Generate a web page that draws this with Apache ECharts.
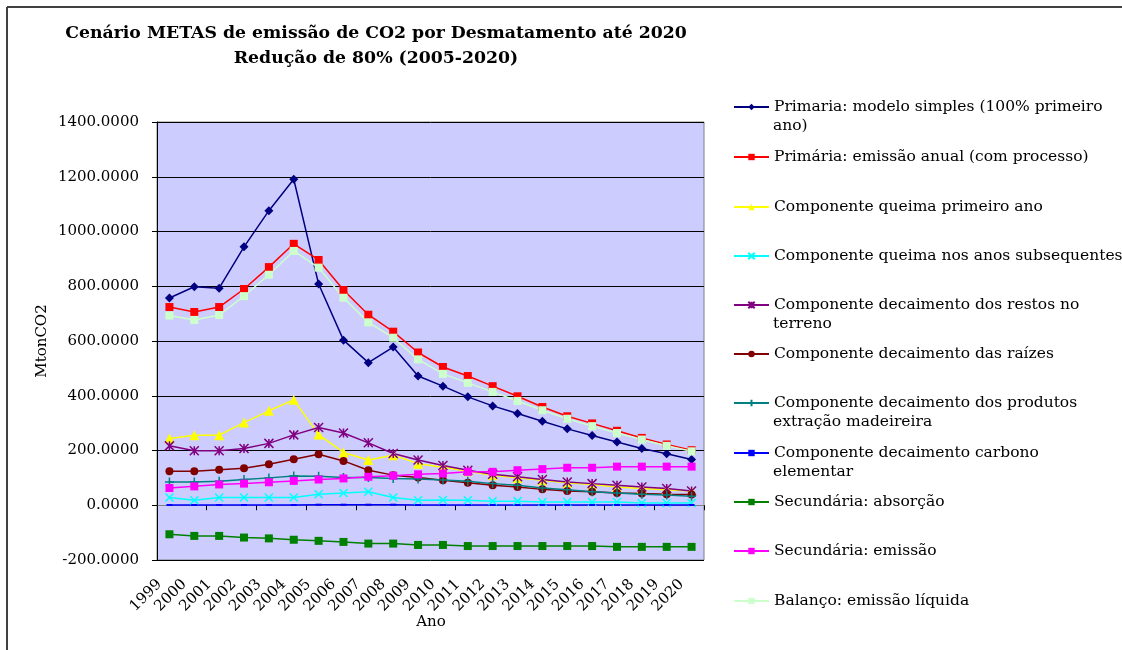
<!DOCTYPE html>
<html><head><meta charset="utf-8">
<script src="https://cdn.jsdelivr.net/npm/echarts@6/dist/echarts.min.js"></script>
<style>html,body{margin:0;padding:0;background:#fff}#c{width:1122px;height:650px}</style>
</head><body><div id="c"></div>
<script>
const years = ['1999','2000','2001','2002','2003','2004','2005','2006','2007','2008','2009','2010','2011','2012','2013','2014','2015','2016','2017','2018','2019','2020'];
const primariaSimples = [757,798,793,944,1076,1191,808,603,521,578,472,435,396,363,335,307,279,255,231,207,188,167];
const primariaAnual = [724,706,724,790,870,955,896,786,696,634,558,505,472,435,398,359,325,299,272,246,222,201];
const queimaPrimeiro = [244,256,256,302,345,385,258,193,165,183,152,139,124,110,100,91,82,76,67,61,57,52];
const queimaSubseq = [28,18,28,28,28,28,40,45,49,28,18,19,18,15,15,12,12,12,12,8,8,8];
const decRestos = [217,199,199,207,226,257,284,264,228,189,165,145,128,113,104,94,85,79,73,67,61,52];
const decRaizes = [124,124,130,135,150,168,186,162,128,110,101,91,82,73,67,58,52,49,45,43,40,39];
const decProdutos = [85,85,88,94,100,107,106,101,101,98,96,92,88,79,73,63,57,49,45,40,37,33];
const decCarbono = [1,1,1,1,1,1,2,2,2,2,1,1,1,1,1,1,1,1,1,1,1,1];
const secAbsorcao = [-106,-112,-112,-118,-121,-126,-130,-134,-140,-140,-145,-145,-149,-149,-149,-149,-149,-149,-152,-152,-152,-152];
const secEmissao = [63,69,76,79,84,89,94,98,104,108,113,116,122,122,128,132,137,137,141,141,141,141];
const balanco = [693,677,695,764,842,929,868,758,668,612,533,480,447,414,381,347,316,289,264,240,217,197];
const yTicks = {min:-200, max:1400, step:200};

const names = [
  'Primaria: modelo simples (100% primeiro ano)',
  'Primária: emissão anual (com processo)',
  'Componente queima primeiro ano',
  'Componente queima nos anos subsequentes',
  'Componente decaimento dos restos no terreno',
  'Componente decaimento das raízes',
  'Componente decaimento dos produtos extração madeireira',
  'Componente decaimento carbono elementar',
  'Secundária: absorção',
  'Secundária: emissão',
  'Balanço: emissão líquida'
];
const legendLines = [
  ['Primaria: modelo simples (100% primeiro', 'ano)'],
  ['Primária: emissão anual (com processo)'],
  ['Componente queima primeiro ano'],
  ['Componente queima nos anos subsequentes'],
  ['Componente decaimento dos restos no', 'terreno'],
  ['Componente decaimento das raízes'],
  ['Componente decaimento dos produtos', 'extração madeireira'],
  ['Componente decaimento carbono', 'elementar'],
  ['Secundária: absorção'],
  ['Secundária: emissão'],
  ['Balanço: emissão líquida']
];
const values = [primariaSimples, primariaAnual, queimaPrimeiro, queimaSubseq, decRestos, decRaizes, decProdutos, decCarbono, secAbsorcao, secEmissao, balanco];

const F = 'DejaVu Serif';
const LF = 15.5;
const styles = [
  {c:'#000080', s:'diamond', z:9},
  {c:'#FF0000', s:'rect', z:8},
  {c:'#FFFF00', s:'triangle', z:10},
  {c:'#00FFFF', s:'path://M0,0L10,10M10,0L0,10', z:8, stroke:true},
  {c:'#800080', s:'path://M0,0L10,10M10,0L0,10M5,0L5,10', z:9, stroke:true},
  {c:'#800000', s:'circle', z:8},
  {c:'#008080', s:'path://M5,0L5,10M0,5L10,5', z:9, stroke:true},
  {c:'#0000FF', s:'rect', z:[6,2]},
  {c:'#008000', s:'rect', z:8},
  {c:'#FF00FF', s:'rect', z:8},
  {c:'#CCFFCC', s:'rect', z:8}
];
const centers = [107,157,207,256,305,354,403,453,502,551,601];

const series = names.map((n,i)=>({
  name:n, type:'line', data:values[i], xAxisIndex:0, yAxisIndex:0,
  symbol:styles[i].s, symbolSize:styles[i].z, showAllSymbol:true,
  lineStyle:{color:styles[i].c, width:1.5},
  itemStyle: styles[i].stroke ? {color:styles[i].c, borderColor:styles[i].c, borderWidth:1.5} : {color:styles[i].c, borderWidth:0},
  emphasis:{disabled:true}, animation:false
}));

const legends = names.map((n,i)=>({
  data:[n], left:733, top:centers[i]-10, padding:0, orient:'vertical',
  itemWidth:35, itemHeight:8, selectedMode:false,
  formatter: ()=>legendLines[i][0],
  textStyle:{fontFamily:F, fontSize:LF, color:'#000', lineHeight:20}
}));

const graphics = [
  {type:'line', shape:{x1:7, y1:7, x2:1122, y2:7}, style:{stroke:'#404040', lineWidth:2}, silent:true, z:100},
  {type:'line', shape:{x1:7, y1:7, x2:7, y2:650}, style:{stroke:'#404040', lineWidth:2}, silent:true, z:100}
];
legendLines.forEach((l,i)=>{
  if (l.length > 1) graphics.push({type:'text', left:773, top:centers[i]+11, silent:true,
    style:{text:l[1], font:LF+'px "'+F+'"', fill:'#000'}});
});

const chart = echarts.init(document.getElementById('c'), null, {renderer:'canvas'});
chart.setOption({
  animation:false,
  backgroundColor:'#fff',
  title:{text:'Cenário METAS de emissão de CO2 por Desmatamento até 2020\nRedução de 80% (2005-2020)',
    left:376, top:21, textAlign:'center', padding:0,
    textStyle:{fontFamily:F, fontWeight:'bold', fontSize:17.3, color:'#000', lineHeight:25}},
  legend:legends,
  grid:[
    {left:157, top:122, right:418, bottom:90, show:true, backgroundColor:'#CCCCFF', borderColor:'#808080', borderWidth:1, containLabel:false},
    {left:147, top:122, right:428, bottom:90, show:false, containLabel:false}
  ],
  xAxis:[
    {type:'category', gridIndex:0, data:years, boundaryGap:true,
      axisLine:{show:true, onZero:true, lineStyle:{color:'#808080', width:1}},
      axisTick:{show:true, length:5, lineStyle:{color:'#000'}},
      axisLabel:{show:false}, splitLine:{show:false}},
    {type:'category', gridIndex:1, data:years, boundaryGap:true, position:'bottom',
      axisLine:{show:false, onZero:false}, axisTick:{show:false}, splitLine:{show:false},
      axisLabel:{rotate:45, interval:0, margin:22, fontFamily:F, fontSize:15, color:'#000'},
      name:'Ano', nameLocation:'middle', nameGap:55, nameMoveOverlap:false,
      nameTextStyle:{fontFamily:F, fontSize:15, color:'#000', padding:[0,0,0,21]}}
  ],
  yAxis:[
    {type:'value', gridIndex:0, min:yTicks.min, max:yTicks.max, interval:yTicks.step,
      name:'MtonCO2', nameLocation:'middle', nameGap:107, nameTextStyle:{fontFamily:F, fontSize:15, color:'#000'},
      axisLine:{show:true, lineStyle:{color:'#000'}},
      axisTick:{show:true, length:5, lineStyle:{color:'#000'}},
      axisLabel:{formatter:v=>v.toFixed(4), margin:18, fontFamily:F, fontSize:15, color:'#000'},
      splitLine:{show:true, lineStyle:{color:'#000', width:1}}},
    {type:'value', gridIndex:1, min:yTicks.min, max:yTicks.max, interval:yTicks.step, show:false}
  ],
  graphic:graphics,
  series:series
});
</script>
</body></html>
